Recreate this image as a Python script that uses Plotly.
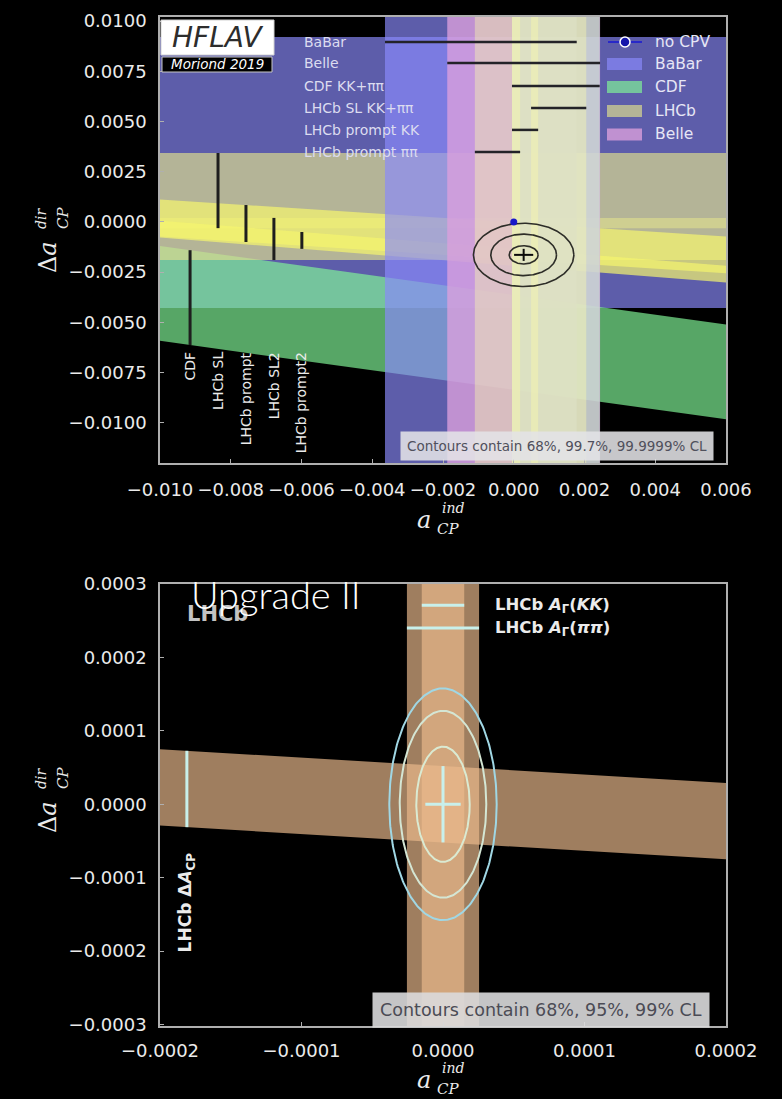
import numpy as np
import plotly.graph_objects as go

W, H = 782, 1099

# ---------------- top panel: HFLAV Moriond 2019 average ----------------
# Delta A_CP measurements, drawn as bands  Δa_dir = centre - slope * a_ind ± half
dacp_labels = ["BaBar", "CDF", "LHCb SL", "LHCb SL2", "LHCb prompt", "LHCb prompt2"]
dacp_centre = [0.00246, -0.00600, 0.00156, -0.00085, -0.00095, -0.00176]
dacp_slope = [0.0, 0.244, 0.0, 0.0, 0.115, 0.140]
dacp_half = [0.00674, 0.00236, 0.00187, 0.00105, 0.00092, 0.00042]

# A_Gamma type measurements of a_ind, drawn as vertical bands
aind_labels = ["BaBar", "Belle", "CDF KK+ππ", "LHCb SL KK+ππ", "LHCb prompt KK", "LHCb prompt ππ"]
aind_centre = [-0.00093, 0.00028, 0.00119, 0.00127, 0.00032, -0.00046]
aind_err = [0.00271, 0.00216, 0.00124, 0.00078, 0.00037, 0.00064]
aind_row_y = [0.00896, 0.00791, 0.00677, 0.00567, 0.00458, 0.00348]

# vertical error bars on the left: which Delta A_CP band, and where
bar_labels = ["CDF", "LHCb SL", "LHCb prompt", "LHCb SL2", "LHCb prompt2"]
bar_aind = [-0.00915, -0.00836, -0.00757, -0.00678, -0.00599]

# world average and contour levels
avg_x, avg_y = 0.00028, -0.00164
avg_sx, avg_sy = 0.00027, 0.00030
avg_cl = [0.6827, 0.9973, 0.999999]

# ---------------- bottom panel: LHCb Upgrade II projection ----------------
up_dacp_centre, up_dacp_slope, up_dacp_half = 0.0, 0.115, 0.000052
up_ag_labels = ["LHCb <i>A</i><sub>Γ</sub>(<i>KK</i>)", "LHCb <i>A</i><sub>Γ</sub>(<i>ππ</i>)"]
up_ag_centre = [0.0, 0.0]
up_ag_err = [0.0000150, 0.0000255]
up_ag_row_y = [0.000271, 0.000240]
up_bar_aind = -0.000181
up_x, up_y = 0.0, 0.0
up_sx, up_sy = 0.0000125, 0.000052
up_cl = [0.68, 0.95, 0.99]

# tick labels
top_xticks = [-0.010, -0.008, -0.006, -0.004, -0.002, 0.0, 0.002, 0.004, 0.006]
top_yticks = [-0.0100, -0.0075, -0.0050, -0.0025, 0.0, 0.0025, 0.0050, 0.0075, 0.0100]
bot_xticks = [-0.0002, -0.0001, 0.0, 0.0001, 0.0002]
bot_yticks = [-0.0003, -0.0002, -0.0001, 0.0, 0.0001, 0.0002, 0.0003]

# ---------------- styles ----------------
slant_col = {
    "BaBar": ((137, 137, 251), 0.68),
    "CDF": ((128, 245, 150), 0.68),
    "LHCb SL": ((218, 218, 143), 0.70),
    "LHCb SL2": ((218, 218, 143), 0.70),
    "LHCb prompt": ((245, 245, 110), 0.70),
    "LHCb prompt2": ((245, 245, 110), 0.70),
}
LHCB_V = ((250, 250, 170), 0.42)
vert_col = [((137, 137, 251), 0.68), ((221, 160, 221), 0.78), ((200, 240, 210), 0.60),
            LHCB_V, LHCB_V, LHCB_V]
up_col = ((235, 185, 140), 0.68)
CYAN = "rgb(200,240,235)"


def rgba(c, a):
    return f"rgba({c[0]},{c[1]},{c[2]},{a})"


def px(x):
    return x / W


def py(y):
    return 1 - y / H


fig = go.Figure()


def poly(xs, ys, color, xa="x", ya="y"):
    fig.add_trace(go.Scatter(x=xs, y=ys, mode="lines", fill="toself", fillcolor=color,
                             line=dict(width=0), hoverinfo="skip", showlegend=False,
                             xaxis=xa, yaxis=ya))


def slanted(c, s, w, a0, a1):
    xs = [a0, a1, a1, a0, a0]
    ys = [c - s * a0 + w, c - s * a1 + w, c - s * a1 - w, c - s * a0 - w, c - s * a0 + w]
    return xs, ys


def vertical(c, e, y0, y1):
    return [c - e, c + e, c + e, c - e, c - e], [y0, y0, y1, y1, y0]


def ellipse(x0, y0, sx, sy, cl, n=240):
    k = np.sqrt(-2.0 * np.log(1.0 - cl))
    t = np.linspace(0, 2 * np.pi, n)
    return x0 + k * sx * np.cos(t), y0 + k * sy * np.sin(t)


def errbar(x, y, ex, ey, color, thick, xa="x", ya="y"):
    kw = dict(x=[x], y=[y], mode="markers", marker=dict(size=1, color="rgba(0,0,0,0)"),
              hoverinfo="skip", showlegend=False, xaxis=xa, yaxis=ya)
    if ex:
        kw["error_x"] = dict(type="data", array=[ex], color=color, thickness=thick, width=0)
    if ey:
        kw["error_y"] = dict(type="data", array=[ey], color=color, thickness=thick, width=0)
    fig.add_trace(go.Scatter(**kw))


# --- top panel bands
for lab, c, s, w in zip(dacp_labels, dacp_centre, dacp_slope, dacp_half):
    col, a = slant_col[lab]
    xs, ys = slanted(c, s, w, -0.011, 0.007)
    poly(xs, ys, rgba(col, a))

for (col, a), c, e in zip(vert_col, aind_centre, aind_err):
    xs, ys = vertical(c, e, -0.013, 0.011)
    poly(xs, ys, rgba(col, a))

# a_ind measurements as horizontal bars
for c, e, yr in zip(aind_centre, aind_err, aind_row_y):
    errbar(c, yr, e, None, "rgb(35,35,40)", 2.5)

# Delta A_CP measurements as vertical bars
for lab, xa in zip(bar_labels, bar_aind):
    i = dacp_labels.index(lab)
    yc = dacp_centre[i] - dacp_slope[i] * xa
    errbar(xa, yc, None, dacp_half[i], "rgb(30,30,30)", 3)

# contours of the average
for cl in avg_cl:
    ex, ey = ellipse(avg_x, avg_y, avg_sx, avg_sy, cl)
    fig.add_trace(go.Scatter(x=ex, y=ey, mode="lines", line=dict(color="rgb(45,45,40)", width=1.6),
                             hoverinfo="skip", showlegend=False))
errbar(avg_x, avg_y, avg_sx, avg_sy, "rgb(10,10,10)", 2)

# no CP violation point
fig.add_trace(go.Scatter(x=[0.0], y=[0.0], mode="markers",
                         marker=dict(size=7, color="rgb(25,25,200)"),
                         hoverinfo="skip", showlegend=False))

# --- bottom panel bands
xs, ys = slanted(up_dacp_centre, up_dacp_slope, up_dacp_half, -0.00025, 0.00025)
poly(xs, ys, rgba(*up_col), "x2", "y2")
for c, e in sorted(zip(up_ag_centre, up_ag_err), key=lambda t: -t[1]):
    xs, ys = vertical(c, e, -0.0004, 0.0004)
    poly(xs, ys, rgba(*up_col), "x2", "y2")

for c, e, yr in zip(up_ag_centre, up_ag_err, up_ag_row_y):
    errbar(c, yr, e, None, CYAN, 3, "x2", "y2")
errbar(up_bar_aind, up_dacp_centre - up_dacp_slope * up_bar_aind, None, up_dacp_half,
       CYAN, 3, "x2", "y2")

for cl, col in zip(up_cl, ["rgb(218,234,210)", "rgb(212,230,212)", "rgb(160,215,228)"]):
    ex, ey = ellipse(up_x, up_y, up_sx, up_sy, cl)
    fig.add_trace(go.Scatter(x=ex, y=ey, mode="lines", line=dict(color=col, width=2),
                             hoverinfo="skip", showlegend=False, xaxis="x2", yaxis="y2"))
errbar(up_x, up_y, up_sx, up_sy, CYAN, 3, "x2", "y2")

# ---------------- axes ----------------
TICKFONT = dict(family="DejaVu Sans", size=18, color="rgb(235,235,235)")
common = dict(showline=True, linecolor="rgb(175,175,175)", linewidth=1.5, mirror=True,
              ticks="inside", ticklen=4, tickwidth=1.2, tickcolor="rgb(175,175,175)",
              tickfont=TICKFONT, showgrid=False, zeroline=False, fixedrange=True,
              automargin=False, tickangle=0)


def fmt(v, d):
    s = f"{abs(v):.{d}f}"
    return ("−" + s) if v < 0 else s


xdom = [160 / W, 726 / W]
fig.update_layout(
    template="none",
    xaxis=dict(domain=xdom, range=[-0.010, 0.006], tickvals=top_xticks,
               ticktext=[fmt(v, 3) for v in top_xticks], anchor="y", ticklabelstandoff=10, **common),
    yaxis=dict(domain=[py(463), py(17)], range=[-0.0120, 0.0102], tickvals=top_yticks,
               ticktext=[fmt(v, 4) for v in top_yticks], anchor="x", ticklabelstandoff=8, **common),
    xaxis2=dict(domain=xdom, range=[-0.0002, 0.0002], tickvals=bot_xticks,
                ticktext=[fmt(v, 4) for v in bot_xticks], anchor="y2", ticklabelstandoff=8, **common),
    yaxis2=dict(domain=[py(1026), py(584)], range=[-0.000302, 0.0003], tickvals=bot_yticks,
                ticktext=[fmt(v, 4) for v in bot_yticks], anchor="x2", ticklabelstandoff=8, **common),
)

shapes = []
ann = []


def note(text, x, y, size, color, family="DejaVu Sans", angle=0, xanchor="center", **extra):
    d = dict(text=text, x=px(x), y=py(y), xref="paper", yref="paper", showarrow=False,
             xanchor=xanchor, yanchor="middle", textangle=angle,
             font=dict(family=family, size=size, color=color))
    for k, v in extra.items():
        if k == "weight":
            d["font"]["weight"] = v
        else:
            d[k] = v
    ann.append(d)


# HFLAV logo
shapes.append(dict(type="rect", xref="paper", yref="paper", x0=px(161), x1=px(274), y0=py(55), y1=py(20),
                   fillcolor="white", line=dict(color="rgb(210,210,210)", width=1), layer="above"))
shapes.append(dict(type="rect", xref="paper", yref="paper", x0=px(162), x1=px(272), y0=py(72), y1=py(57),
                   fillcolor="black", line=dict(color="rgb(200,200,200)", width=1), layer="above"))
note("<i>HFLAV</i>", 218, 38, 28, "rgb(45,45,45)")
note("<i>Moriond 2019</i>", 217, 64.5, 13.5, "white")

# labels of the a_ind bars
for lab, yr in zip(aind_labels, aind_row_y):
    ann.append(dict(text=lab, x=-0.0060, y=yr, xref="x", yref="y", xanchor="left", yanchor="middle",
                    showarrow=False, font=dict(family="DejaVu Sans", size=14, color="rgb(220,220,240)")))

# rotated labels of the Delta A_CP bars
for lab, xa in zip(bar_labels, bar_aind):
    ann.append(dict(text=lab, x=xa, y=-0.00637, xref="x", yref="y", xanchor="center", yanchor="top",
                    textangle=-90, showarrow=False,
                    font=dict(family="DejaVu Sans", size=14, color="rgb(235,235,235)")))

# legend of the top panel
leg = [("no CPV", None, 42), ("BaBar", "BaBar", 64), ("CDF", "CDF", 87), ("LHCb", "LHCb SL", 111),
       ("Belle", "Belle", 134.5)]
for name, key, yc in leg:
    note(name, 653, yc, 15.5, "rgb(230,230,245)", xanchor="left")
    if key is None:
        shapes.append(dict(type="line", xref="paper", yref="paper", x0=px(608), x1=px(642),
                           y0=py(yc), y1=py(yc), line=dict(color="rgb(40,40,200)", width=2), layer="above"))
        shapes.append(dict(type="circle", xref="paper", yref="paper", x0=px(620), x1=px(630),
                           y0=py(yc + 5), y1=py(yc - 5), fillcolor="rgb(20,20,170)",
                           line=dict(color="white", width=1.5), layer="above"))
    else:
        if key == "Belle":
            col, a = vert_col[1]
        else:
            col, a = slant_col[key]
        shapes.append(dict(type="rect", xref="paper", yref="paper", x0=px(607), x1=px(642),
                           y0=py(yc + 6), y1=py(yc - 6), fillcolor=rgba(col, a),
                           line=dict(width=0), layer="above"))

note("Contours contain 68%, 99.7%, 99.9999% CL", 557, 446, 13.5, "rgb(80,80,92)",
     bgcolor="rgba(226,226,230,0.88)", borderpad=6)

# axis titles
SERIF = "DejaVu Serif"
WHITE = "rgb(235,235,235)"
for dy in (0, 560):
    note("Δ<i>a</i>", 48, 257 + dy, 24, WHITE, SERIF, -90)
    note("<i>dir</i>", 41, 219 + dy, 14, WHITE, SERIF, -90)
    note("<i>CP</i>", 63, 218 + dy, 15, WHITE, SERIF, -90)
    note("<i>a</i>", 424, 520 + dy, 24, WHITE, SERIF)
    note("<i>ind</i>", 453, 508 + dy, 14, WHITE, SERIF)
    note("<i>CP</i>", 448, 529 + dy, 15, WHITE, SERIF)

# bottom panel texts
note("<b>LHCb</b>", 217, 614, 21, "rgb(195,195,195)")
note("Upgrade II", 276, 594, 38, "white", "Lato", weight=300)
for lab, yr in zip(up_ag_labels, up_ag_row_y):
    ann.append(dict(text=lab, x=0.0000353, y=yr, xref="x2", yref="y2", xanchor="left", yanchor="middle",
                    showarrow=False, font=dict(family="DejaVu Sans", size=16.5, color="rgb(235,235,235)",
                                               weight="bold")))
ann.append(dict(text="LHCb Δ<i>A</i><sub>CP</sub>", x=up_bar_aind, y=-0.000063, xref="x2", yref="y2",
                xanchor="center", yanchor="top", textangle=-90, showarrow=False,
                font=dict(family="DejaVu Sans", size=17, color="rgb(235,235,235)", weight="bold")))
note("Contours contain 68%, 95%, 99% CL", 541, 1010, 17.5, "rgb(75,75,85)",
     bgcolor="rgba(218,218,220,0.9)", borderpad=7)

fig.update_layout(width=W, height=H, margin=dict(l=0, r=0, t=0, b=0, autoexpand=False),
                  paper_bgcolor="black", plot_bgcolor="black",
                  shapes=shapes, annotations=ann, showlegend=False)

fig.write_html("out.html", config={"displayModeBar": False})
